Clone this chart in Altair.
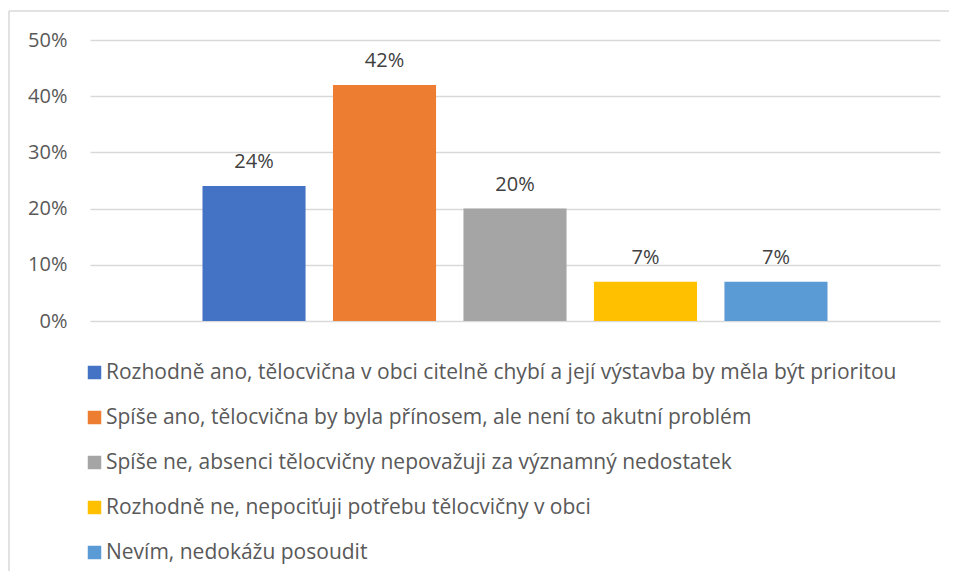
import altair as alt
import pandas as pd

categories = [
    "Rozhodně ano, tělocvična v obci citelně chybí a její výstavba by měla být prioritou",
    "Spíše ano, tělocvična by byla přínosem, ale není to akutní problém",
    "Spíše ne, absenci tělocvičny nepovažuji za významný nedostatek",
    "Rozhodně ne, nepociťuji potřebu tělocvičny v obci",
    "Nevím, nedokážu posoudit",
]
values = [0.24, 0.42, 0.20, 0.07, 0.07]
colors = ["#4472C4", "#ED7D31", "#A5A5A5", "#FFC000", "#5B9BD5"]
y_ticks = [0, 0.1, 0.2, 0.3, 0.4, 0.5]

df = pd.DataFrame({"cat": categories, "val": values})

FONT = "Open Sans"

x = alt.X("cat:N", sort=categories, axis=None,
          scale=alt.Scale(paddingInner=0.21, paddingOuter=0.862))
y = alt.Y("val:Q", scale=alt.Scale(domain=[0, 0.5]),
          axis=alt.Axis(values=y_ticks, format=".0%", title=None, domain=False,
                        ticks=False, labelPadding=23, labelFontSize=20,
                        labelColor="#595959", labelFont=FONT,
                        gridColor="#D9D9D9", gridWidth=1.3))

bars = alt.Chart(df).mark_bar().encode(
    x=x, y=y,
    color=alt.Color("cat:N", sort=categories,
                    scale=alt.Scale(domain=categories, range=colors),
                    legend=alt.Legend(title=None, orient="none", legendX=-6, legendY=322,
                                      direction="vertical", symbolType="square",
                                      symbolSize=182, symbolStrokeWidth=0,
                                      labelFontSize=21, labelFont=FONT,
                                      labelColor="#595959", labelLimit=1000,
                                      labelOffset=1, rowPadding=23)),
)

labels = alt.Chart(df).mark_text(dy=-18, baseline="alphabetic", fontSize=20,
                                 font=FONT, color="#404040").encode(
    x=x, y=alt.Y("val:Q"), text=alt.Text("val:Q", format=".0%"))

top_border = alt.Chart(df.head(1)).mark_rule(stroke="#D9D9D9", strokeWidth=1.5).encode(
    x=alt.value(-81), x2=alt.value(870), y=alt.value(-29))
left_border = alt.Chart(df.head(1)).mark_rule(stroke="#D9D9D9", strokeWidth=1.5).encode(
    x=alt.value(-81), y=alt.value(-29), y2=alt.value(560))

chart = alt.layer(top_border, left_border, bars, labels).properties(
    width=850, height=281,
    padding={"left": 82, "top": 32, "right": 9, "bottom": 250},
    autosize=alt.AutoSizeParams(type="none"),
    background="white",
).configure_view(stroke=None)

chart.save("out.html", embed_options={"renderer": "svg", "actions": False})
